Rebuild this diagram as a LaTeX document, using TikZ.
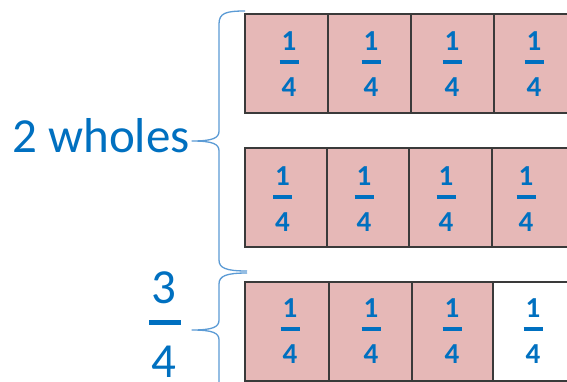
\documentclass[tikz,border=0pt]{standalone}
\usepackage{fontspec}
\setmainfont{Carlito}
\definecolor{txtblue}{HTML}{0070C0}
\definecolor{braceblue}{HTML}{5B9BD5}
\definecolor{cellfill}{HTML}{E6B8B7}
\definecolor{cellline}{HTML}{3A3A3A}
\begin{document}
\begin{tikzpicture}[x=1pt,y=-1pt,
 cell/.style={draw=cellline, line width=1.6pt, fill=cellfill, inner sep=0pt, outer sep=0pt, minimum height=99pt},
 emptycell/.style={cell, fill=white},
 digit/.style={text=txtblue, font=\fontsize{29}{29}\selectfont\bfseries, inner sep=0pt, anchor=base},
 bigtxt/.style={text=txtblue, font=\fontsize{49}{49}\selectfont, inner sep=0pt, anchor=base},
 fbar/.style={draw=txtblue, line width=3.5pt},
 bigbar/.style={draw=txtblue, line width=5pt},
 bracepath/.style={draw=braceblue, line width=1.3pt, line join=round}]
\clip (0,0) rectangle (567,381);
\fill[white] (0,0) rectangle (567,381);
% row 1
\node[cell, minimum width=83pt] (a1) at (286.5,63.5) {};
\node[cell, minimum width=83pt] (a2) at (369.5,63.5) {};
\node[cell, minimum width=83pt] (a3) at (452.5,63.5) {};
\node[cell, minimum width=83pt] (a4) at (535.5,63.5) {};
% row 2
\node[cell, minimum width=82pt] (b1) at (286,197.5) {};
\node[cell, minimum width=82pt] (b2) at (368,197.5) {};
\node[cell, minimum width=83pt] (b3) at (450.5,197.5) {};
\node[cell, minimum width=83pt] (b4) at (533.5,197.5) {};
% row 3
\node[cell, minimum width=84pt] (c1) at (287,331.5) {};
\node[cell, minimum width=83pt] (c2) at (370.5,331.5) {};
\node[cell, minimum width=81pt] (c3) at (452.5,331.5) {};
\node[emptycell, minimum width=83pt] (c4) at (534.5,331.5) {};
% fractions
\foreach \x [count=\i] in {289,371,452,534} {
  \node[digit] (na\i) at (\x,50) {1};
  \draw[fbar] (\x-9.5,62) -- (\x+9.5,62);
  \node[digit] (da\i) at (\x,96) {4};
}
\foreach \x [count=\i] in {282.5,364,446,526} {
  \node[digit] (nb\i) at (\x,185) {1};
  \draw[fbar] (\x-9.5,197) -- (\x+9.5,197);
  \node[digit] (db\i) at (\x,231) {4};
}
\foreach \x [count=\i] in {290,371,452,533} {
  \node[digit] (nc\i) at (\x,317) {1};
  \draw[fbar] (\x-9.5,329) -- (\x+9.5,329);
  \node[digit] (dc\i) at (\x,363) {4};
}
% labels
\node[bigtxt] (whole) at (101,152) {2 wholes};
\node[bigtxt] (tnum) at (164,303) {3};
\draw[bigbar] (149,322) -- (181,322);
\node[bigtxt] (tden) at (164,377) {4};
% braces
\draw[bracepath] (245,11) .. controls (226,11) and (219,13) .. (219,24) -- (219,131)
  .. controls (219,138) and (213,141) .. (192,141)
  .. controls (213,141) and (219,144) .. (219,151) -- (219,260)
  .. controls (219,268) and (226,271) .. (247,271);
\draw[bracepath] (247,273) .. controls (226,273) and (219,276) .. (219,284) -- (219,320)
  .. controls (219,327) and (213,330) .. (192,330)
  .. controls (213,330) and (219,333) .. (219,340) -- (219,395);
\end{tikzpicture}
\end{document}
